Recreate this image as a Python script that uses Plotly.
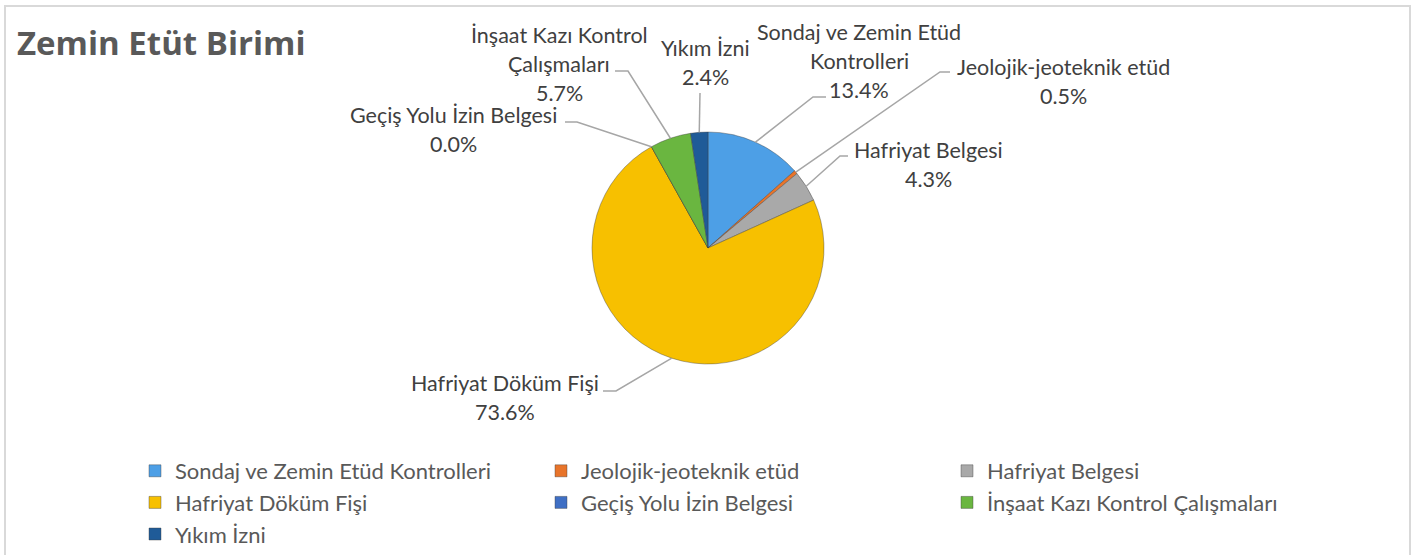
import math
import plotly.graph_objects as go

W, H = 1419, 555

# Data
categories = [
    "Sondaj ve Zemin Etüd Kontrolleri",
    "Jeolojik-jeoteknik etüd",
    "Hafriyat Belgesi",
    "Hafriyat Döküm Fişi",
    "Geçiş Yolu İzin Belgesi",
    "İnşaat Kazı Kontrol Çalışmaları",
    "Yıkım İzni",
]
shares = [13.4, 0.5, 4.3, 73.6, 0.0, 5.7, 2.4]
label_lines = [
    ["Sondaj ve Zemin Etüd", "Kontrolleri"],
    ["Jeolojik-jeoteknik etüd"],
    ["Hafriyat Belgesi"],
    ["Hafriyat Döküm Fişi"],
    ["Geçiş Yolu İzin Belgesi"],
    ["İnşaat Kazı Kontrol", "Çalışmaları"],
    ["Yıkım İzni"],
]
colors = ["#4d9fe6", "#e8742a", "#a9a9a9", "#f7c000", "#3f6fc4", "#6ab640", "#1f5b98"]

# Layout of the pie (pixels)
CX, CY, R = 708, 248, 116
FONT = "Lato"
TXT = "#404040"
LH = 29  # label line height

# Label block placement: (center x, first line y), leader elbow and end (px)
label_pos = [(859, 32), (1063, 67), (928, 150), (505, 383), (454, 115), (559, 35), (705, 48)]
leader_knee = [(813, 97), (940, 72), (840, 156), (616, 391), (577, 122), (628, 71), (700, 93)]
leader_end = [(826, 97), (950, 72), (848, 156), (603, 391), (565, 122), (615, 71), (700, 93)]


def px(x):
    return x / W


def py(y):
    return 1 - y / H


fig = go.Figure(
    go.Pie(
        labels=categories,
        values=shares,
        sort=False,
        direction="clockwise",
        rotation=0,
        textinfo="none",
        hoverinfo="label+percent",
        marker=dict(colors=colors, line=dict(color="rgba(60,60,60,0.5)", width=0.8)),
        domain=dict(x=[px(CX - R), px(CX + R)], y=[py(CY + R), py(CY - R)]),
    )
)

annotations = []
shapes = []
total = sum(shares)
cum = 0.0
for i, v in enumerate(shares):
    mid = (cum + v / 2) / total * 2 * math.pi
    cum += v
    sx = CX + R * math.sin(mid)
    sy = CY - R * math.cos(mid)
    kx, ky = leader_knee[i]
    ex, ey = leader_end[i]
    shapes.append(dict(
        type="path", xref="paper", yref="paper",
        path=f"M {px(sx)} {py(sy)} L {px(kx)} {py(ky)} L {px(ex)} {py(ey)}",
        line=dict(color="#a6a6a6", width=1.5),
    ))
    lx, ly = label_pos[i]
    lines = label_lines[i] + [f"{v:.1f}%"]
    for j, t in enumerate(lines):
        annotations.append(dict(
            x=px(lx), y=py(ly + j * LH), xref="paper", yref="paper",
            text=t, showarrow=False, xanchor="center", yanchor="middle",
            font=dict(family=FONT, size=21.5, color=TXT),
        ))

annotations.append(dict(
    x=px(15), y=py(42), xref="paper", yref="paper", text="<b>Zemin Etüt Birimi</b>",
    showarrow=False, xanchor="left", yanchor="middle",
    font=dict(family="Open Sans", size=33, color="#595959"),
))

# chart frame
shapes.append(dict(type="rect", xref="paper", yref="paper",
                   x0=px(5), x1=px(1410), y0=-0.05, y1=py(6),
                   line=dict(color="#d9d9d9", width=2), layer="below"))

fig.update_layout(
    width=W, height=H,
    margin=dict(l=0, r=0, t=0, b=0),
    paper_bgcolor="white", plot_bgcolor="white",
    annotations=annotations, shapes=shapes,
    showlegend=True,
    legend=dict(
        orientation="h", x=px(135), y=py(450), xanchor="left", yanchor="top",
        entrywidth=406 / W, entrywidthmode="fraction",
        font=dict(family=FONT, size=22, color="#595959"),
        traceorder="normal",
    ),
)

fig.write_html("out.html")
